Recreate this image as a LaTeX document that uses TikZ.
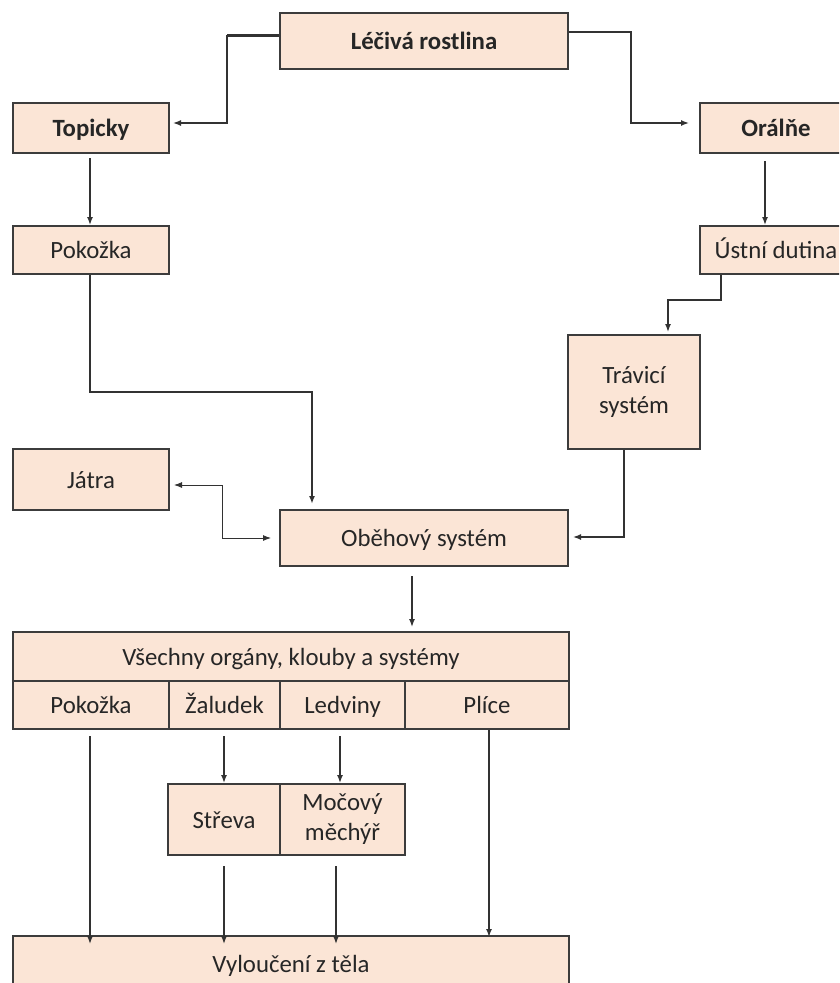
\documentclass[tikz,border=0pt]{standalone}
\usepackage{fontspec}
\setmainfont{Carlito}
\usetikzlibrary{arrows.meta}
\definecolor{boxfill}{RGB}{251,229,214}
\definecolor{boxline}{RGB}{60,60,60}
\definecolor{conline}{RGB}{50,50,50}
\begin{document}
\begin{tikzpicture}[x=1pt,y=-1pt,
  box/.style={draw=boxline,fill=boxfill,line width=2pt,rectangle,inner sep=0pt,
    align=center,font=\fontsize{24.8}{30}\selectfont,text=black!85},
  sbox/.style={box,text height=20pt,text depth=3pt},
  bbox/.style={sbox,font=\fontsize{24.8}{30}\selectfont\bfseries},
  arr/.style={draw=conline,line width=1.4pt,-{Latex[length=8pt,width=6pt]}},
  arrboth/.style={draw=conline,line width=0.9pt,{Latex[length=8pt,width=6pt]}-{Latex[length=8pt,width=6pt]}}]
\path[use as bounding box] (0,0) rectangle (839,983);
\clip (0,0) rectangle (839,983);

% nodes
\node[bbox,minimum width=288pt,minimum height=56pt] (lec) at (424,41) {Léčivá rostlina};
\node[bbox,minimum width=156pt,minimum height=50pt] (top) at (91,128) {Topicky};
\node[bbox,minimum width=152pt,minimum height=50pt] (ora) at (776,128) {Orálňe};
\node[sbox,minimum width=156pt,minimum height=48pt] (pok1) at (91,250) {Pokožka};
\node[sbox,minimum width=152pt,minimum height=48pt] (ust) at (776,250) {Ústní dutina};
\node[box,minimum width=132pt,minimum height=114pt] (trav) at (634,392) {Trávicí\\systém};
\node[sbox,minimum width=156pt,minimum height=61pt] (jat) at (91,479.5) {Játra};
\node[sbox,minimum width=288pt,minimum height=56pt] (obe) at (424,538) {Oběhový systém};
\node[sbox,minimum width=556pt,minimum height=49pt] (vse) at (291,656.5) {Všechny orgány, klouby a systémy};
\node[sbox,minimum width=156pt,minimum height=48pt] (pok2) at (91,705) {Pokožka};
\node[sbox,minimum width=111pt,minimum height=48pt] (zal) at (224.5,705) {Žaludek};
\node[sbox,minimum width=125pt,minimum height=48pt] (led) at (342.5,705) {Ledviny};
\node[sbox,minimum width=164pt,minimum height=48pt] (pli) at (487,705) {Plíce};
\node[sbox,minimum width=112pt,minimum height=71pt] (stv) at (224,819.5) {Střeva};
\node[box,minimum width=125pt,minimum height=71pt] (moc) at (342.5,819.5) {Močový\\měchýř};
\node[sbox,minimum width=556pt,minimum height=56pt] (vyl) at (291,964) {Vyloučení z těla};

% bend coordinates
\coordinate (l1) at (227,35);
\coordinate (l2) at (227,123);
\coordinate (r0) at (631,32);
\coordinate (r1) at (631,123);
\coordinate (xora) at (765,0);
\coordinate (u1) at (721,300);
\coordinate (u2) at (668,300);
\coordinate (p1) at (90,392);
\coordinate (p2) at (312,392);
\coordinate (t1) at (624,537);
\coordinate (j1) at (222,485);
\coordinate (j2) at (222,538);
\coordinate (o1) at (412,0);
\coordinate (xp) at (90,0);
\coordinate (xz) at (224,0);
\coordinate (xl) at (340,0);
\coordinate (xm) at (336,0);
\coordinate (xpl) at (489,0);

% connectors
\draw[draw=conline,line width=3pt] (lec.west |- l1) -- (l1);
\draw[arr] (l1) -- (l2) -- ([xshift=3pt]top.east |- l2);
\draw[arr] (lec.east |- r0) -- (r0) -- (r1) -- ([xshift=-10pt]ora.west |- r1);
\draw[arr] ([yshift=-4pt]top.south -| xp) -- (pok1.north -| xp);
\draw[arr] ([yshift=-7pt]ora.south -| xora) -- (ust.north -| xora);
\draw[arr] (ust.south -| u1) -- (u1) -- (u2) -- ([yshift=2pt]trav.north -| u2);
\draw[arr,line width=1.7pt] (pok1.south -| p1) -- (p1) -- (p2) -- ([yshift=5pt]obe.north -| p2);
\draw[arr] (trav.south -| t1) -- (t1) -- ([xshift=4pt]obe.east |- t1);
\draw[arrboth] ([xshift=4pt]jat.east |- j1) -- (j1) -- (j2) -- ([xshift=-8pt]obe.west |- j2);
\draw[arr] ([yshift=-9pt]obe.south -| o1) -- ([yshift=4pt]vse.north -| o1);
\draw[arr] ([yshift=-6pt]pok2.south -| xp) -- ([yshift=-9pt]vyl.north -| xp);
\draw[arr] ([yshift=-6pt]zal.south -| xz) -- (stv.north -| xz);
\draw[arr] ([yshift=-6pt]led.south -| xl) -- (moc.north -| xl);
\draw[arr] ([yshift=-10pt]stv.south -| xz) -- ([yshift=-9pt]vyl.north -| xz);
\draw[arr] ([yshift=-10pt]moc.south -| xm) -- ([yshift=-9pt]vyl.north -| xm);
\draw[arr] (pli.south -| xpl) -- ([yshift=-2pt]vyl.north -| xpl);
\end{tikzpicture}
\end{document}
